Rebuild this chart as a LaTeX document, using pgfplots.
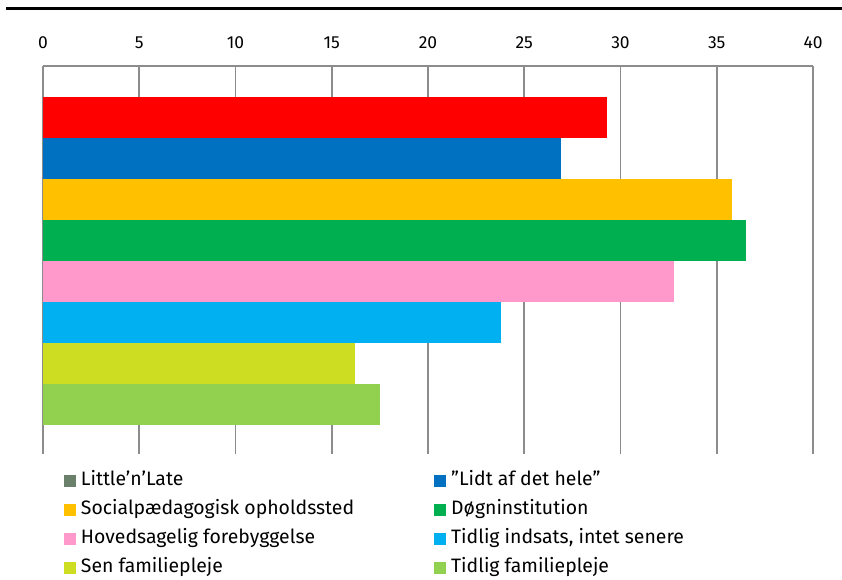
\documentclass[border=0pt]{standalone}
\usepackage{pgfplots}
\pgfplotsset{compat=1.18}
\usepackage{fontspec}
\setmainfont{Fira Sans}
\definecolor{cLL}{HTML}{6B806B}
\definecolor{cRed}{HTML}{FF0000}
\definecolor{cBlue}{HTML}{0070C0}
\definecolor{cGold}{HTML}{FFC000}
\definecolor{cGreen}{HTML}{00B050}
\definecolor{cPink}{HTML}{FF99CC}
\definecolor{cCyan}{HTML}{00B0F0}
\definecolor{cLime}{HTML}{CCDD22}
\definecolor{cLight}{HTML}{92D050}
\definecolor{gridgray}{HTML}{8C8C8C}
\begin{document}
\begin{tikzpicture}
\useasboundingbox (0,0) rectangle (842bp,580bp);
\fill[black] (6bp,569.7bp) rectangle (842bp,572.5bp);
\begin{axis}[
    at={(43bp,126bp)}, anchor=south west,
    scale only axis, width=770bp, height=388bp,
    xmin=0, xmax=40, ymin=-1.256, ymax=8.207,
    y dir=reverse,
    xbar, bar shift=0pt, bar width=1,
    axis x line*=top, axis y line=none,
    axis line style={-, draw=gridgray, line width=1.6bp},
    xtick={0,5,...,40}, ytick=\empty,
    major tick length=0pt,
    xmajorgrids, grid style={draw=gridgray, line width=1.6bp},
    xticklabel style={font=\fontsize{17.5}{20}\selectfont, yshift=14bp},
    /pgf/number format/assume math mode=true,
    legend columns=2,
    legend image code/.code={\fill[#1, draw=none] (0bp,-6bp) rectangle (12bp,6bp);},
    legend style={at={(0.027,-0.045)}, anchor=north west, draw=none, fill=none,
        inner sep=0pt, row sep=11bp, font=\fontsize{19.5}{22}\selectfont,
        nodes={inner sep=0pt, text height=14bp, text depth=4bp},
        /tikz/every odd column/.style={column sep=5bp},
        /tikz/column 2/.style={column sep=80bp}},
    legend cell align=left,
]
\addlegendimage{fill=cLL}\addlegendentry{Little’n’Late}
\addlegendimage{fill=cBlue}\addlegendentry{”Lidt af det hele”}
\addlegendimage{fill=cGold}\addlegendentry{Socialpædagogisk opholdssted}
\addlegendimage{fill=cGreen}\addlegendentry{Døgninstitution}
\addlegendimage{fill=cPink}\addlegendentry{Hovedsagelig forebyggelse}
\addlegendimage{fill=cCyan}\addlegendentry{Tidlig indsats, intet senere}
\addlegendimage{fill=cLime}\addlegendentry{Sen familiepleje}
\addlegendimage{fill=cLight}\addlegendentry{Tidlig familiepleje}
\addplot[fill=cRed, draw=none, forget plot] coordinates {(29.3,0)};
\addplot[fill=cBlue, draw=none, forget plot] coordinates {(26.9,1)};
\addplot[fill=cGold, draw=none, forget plot] coordinates {(35.8,2)};
\addplot[fill=cGreen, draw=none, forget plot] coordinates {(36.5,3)};
\addplot[fill=cPink, draw=none, forget plot] coordinates {(32.8,4)};
\addplot[fill=cCyan, draw=none, forget plot] coordinates {(23.8,5)};
\addplot[fill=cLime, draw=none, forget plot] coordinates {(16.2,6)};
\addplot[fill=cLight, draw=none, forget plot] coordinates {(17.5,7)};
\end{axis}
\end{tikzpicture}
\end{document}
